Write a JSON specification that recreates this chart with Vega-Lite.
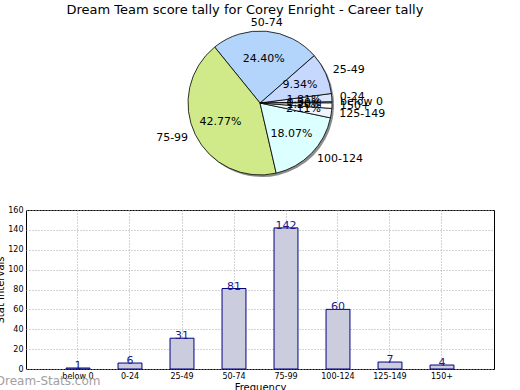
{
  "$schema": "https://vega.github.io/schema/vega-lite/v6.json",
  "background": "white",
  "padding": {"left": -5, "top": 4, "right": 5, "bottom": 0},
  "config": {
    "font": "DejaVu Sans",
    "view": {"stroke": null},
    "axis": {"labelFont": "DejaVu Sans", "titleFont": "DejaVu Sans", "titleFontWeight": "normal", "labelColor": "black", "titleColor": "black"}
  },
  "title": {"text": "Dream Team score tally for Corey Enright - Career tally", "anchor": "middle", "fontSize": 13, "fontWeight": "normal", "font": "DejaVu Sans", "color": "black", "offset": 0},
  "datasets": {
    "tally": [
      {"range": "below 0", "count": 1, "idx": 1, "pct": "0.30%"},
      {"range": "0-24", "count": 6, "idx": 2, "pct": "1.81%"},
      {"range": "25-49", "count": 31, "idx": 3, "pct": "9.34%"},
      {"range": "50-74", "count": 81, "idx": 4, "pct": "24.40%"},
      {"range": "75-99", "count": 142, "idx": 5, "pct": "42.77%"},
      {"range": "100-124", "count": 60, "idx": 6, "pct": "18.07%"},
      {"range": "125-149", "count": 7, "idx": 7, "pct": "2.11%"},
      {"range": "150+", "count": 4, "idx": 8, "pct": "1.20%"}
    ]
  },
  "spacing": 27,
  "vconcat": [
    {
      "width": 468,
      "height": 150,
      "data": {"name": "tally"},
      "encoding": {
        "theta": {"field": "count", "type": "quantitative", "stack": true, "scale": {"range": [1.5708, 7.854]}},
        "order": {"field": "idx", "type": "quantitative", "sort": "descending"}
      },
      "layer": [
        {"mark": {"type": "arc", "outerRadius": 72, "color": "#8c8c8c", "xOffset": 2, "yOffset": 2}},
        {
          "mark": {"type": "arc", "outerRadius": 72, "stroke": "black", "strokeWidth": 0.8},
          "encoding": {
            "color": {"field": "range", "type": "nominal", "legend": null,
              "scale": {"domain": ["below 0", "0-24", "25-49", "50-74", "75-99", "100-124", "125-149", "150+"],
                "range": ["#e8eefc", "#dde7fc", "#c6d8fd", "#b3d5fc", "#d0ea8a", "#dcffff", "#f0f4fc", "#ffffff"]}}
          }
        },
        {
          "mark": {"type": "text", "radius": 44, "fontSize": 11, "color": "black"},
          "encoding": {"text": {"field": "pct"}}
        },
        {
          "mark": {"type": "text", "radius": 80, "fontSize": 11, "color": "black", "baseline": "middle",
            "align": {"expr": "datum.range === '75-99' ? 'right' : (datum.range === '50-74' ? 'center' : 'left')"}},
          "encoding": {"text": {"field": "range"}}
        }
      ]
    },
    {
      "width": 468,
      "height": 159,
      "data": {"name": "tally"},
      "view": {"stroke": "black", "strokeWidth": 1},
      "title": {"text": "Dream-Stats.com", "orient": "bottom", "anchor": "start", "frame": "bounds", "offset": -16, "color": "#a0a0a0", "fontSize": 12, "fontWeight": "normal"},
      "encoding": {
        "x": {"field": "range", "type": "ordinal", "sort": null,
          "scale": {"paddingInner": 0.54, "paddingOuter": 0.77},
          "axis": {"title": "Frequency", "titleFontSize": 10, "titlePadding": 2, "labelAngle": 0, "labelFontSize": 8, "labelPadding": 3, "ticks": false, "domain": false,
            "grid": true, "bandPosition": 0.5, "gridColor": "#a8a8a8", "gridDash": [1, 2], "gridWidth": 1}},
        "y": {"field": "count", "type": "quantitative", "scale": {"domain": [0, 160], "nice": false},
          "axis": {"title": "Stat Intervals", "titleFontSize": 10, "titlePadding": 2, "values": [0, 20, 40, 60, 80, 100, 120, 140, 160], "labelOverlap": false, "labelFontSize": 8, "labelPadding": 3, "ticks": false, "domain": false,
            "grid": true, "gridColor": "#a8a8a8", "gridDash": [1, 2], "gridWidth": 1}}
      },
      "layer": [
        {
          "mark": {"type": "bar", "color": "#ccccdf", "stroke": "#000080", "strokeWidth": 1}
        },
        {
          "mark": {"type": "text", "color": "#1a1a8c", "fontSize": 11, "baseline": "alphabetic", "dy": 1},
          "encoding": {
            "text": {"field": "count"}
          }
        }
      ]
    }
  ]
}
